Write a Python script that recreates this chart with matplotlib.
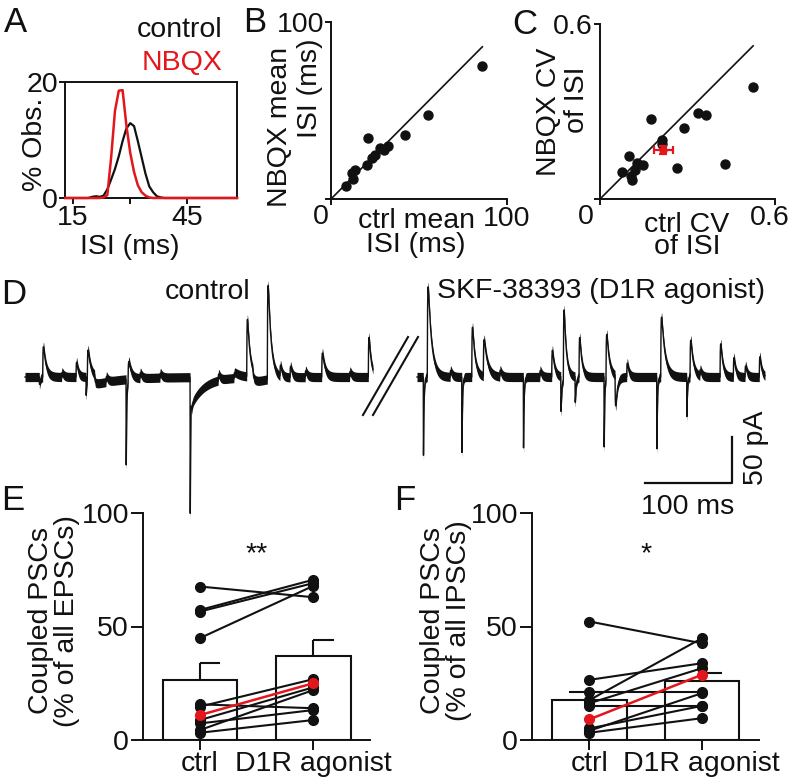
import numpy as np
import matplotlib.pyplot as plt

plt.switch_backend("Agg")
plt.rcParams["font.family"] = ["Liberation Sans", "DejaVu Sans"]

W, H = 793, 783
FS = 20.5
RED = "#e3171b"
INK = "#111111"

# ---- A: ISI distribution (% of observations, 1 ms bins) ----
isi_ms = list(range(13, 59))
isi_control = [0, 0, 0, 0, 0, 0, 0, 0.2, 0.3, 0.2, 0.4, 1.5, 3.2, 5.0, 7.2, 9.8,
               12.0, 12.9, 12.4, 9.8, 7.0, 4.2, 2.0, 1.0, 0.3, 0.1] + [0] * 20
isi_nbqx = [0] * 10 + [0.1, 0.5, 7.0, 15.0, 18.5, 18.6, 12.5, 7.8, 4.5, 2.2,
                       1.0, 0.4, 0.1] + [0] * 23

# ---- B: mean ISI per cell (ms) ----
ctrl_mean_isi = [85.6, 55.3, 42.0, 21.2, 32.2, 30.1, 27.8, 25.0, 23.1, 20.3, 13.6, 11.7, 12.7, 8.5]
nbqx_mean_isi = [75.1, 47.5, 36.2, 34.3, 30.1, 27.7, 28.6, 24.9, 23.0, 19.2, 16.4, 14.5, 11.1, 7.3]

# ---- C: CV of ISI per cell ----
ctrl_cv = [0.526, 0.429, 0.335, 0.362, 0.288, 0.265, 0.175, 0.211, 0.211, 0.101,
           0.126, 0.149, 0.074, 0.120, 0.105, 0.111]
nbqx_cv = [0.383, 0.119, 0.294, 0.288, 0.244, 0.107, 0.274, 0.202, 0.189, 0.149,
           0.122, 0.117, 0.094, 0.099, 0.080, 0.065]
cv_mean = (0.217, 0.168)
cv_sem = (0.033, 0.014)

# ---- D: example traces, events as (time ms, peak pA, decay ms) ----
ctrl_ev_t = [16.4, 20.3, 42, 58.6, 70.1, 71.6, 80, 93, 116.1, 118.4, 132, 155,
             189.7, 191, 222, 240, 254.8, 262, 278.5, 293, 304.6, 322, 341, 373, 394.6]
ctrl_ev_amp = [-8, 33, 5, 16, -20, 30, -8, 6, -93, 20, 6, 5,
               -148, -27, 7, 6, 62, -7, 102, 12, 12, 7, 26, 6, 43]
ctrl_ev_tau = [1, 3, 2, 2, 0.6, 3, 30, 2, 0.6, 3, 2, 2,
               0.6, 15, 2, 8, 3, 15, 3.5, 2, 2, 2, 3, 2, 2.5]

agon_ev_t = [7.2, 11.8, 38, 51.4, 62.9, 76.2, 95, 122.2, 141, 154.8, 165.2, 168.2,
             181.6, 186.2, 214.9, 217.2, 227.6, 241, 275.5, 280.1, 310, 313.8,
             325, 348.3, 363.6, 377, 393.4]
agon_ev_amp = [-85, 98, 7, -82, 54, 40, 7, -77, 7, 29, -38, 74,
               -28, 43, -76, 47, -33, 15, -78, 65, -43, 40,
               7, 36, 21, 12, 22]
agon_ev_tau = [0.6, 4, 2, 0.6, 3, 4, 2, 0.6, 2, 2.5, 1, 2.5,
               1, 2.5, 0.6, 3, 2, 2, 0.6, 4, 0.6, 3,
               2, 2.5, 2, 2, 2]

# ---- E / F: coupled PSCs (% of all EPSCs / IPSCs) ----
groups = ["ctrl", "D1R agonist"]
epsc_ctrl = [67.6, 57.3, 56.6, 44.9, 15.7, 14.7, 8.8, 7.3, 4.4, 3.2]
epsc_agon = [62.9, 70.6, 69.1, 67.9, 14.0, 26.8, 23.2, 13.2, 22.0, 8.8]
epsc_red = (11.0, 25.0)
epsc_mean = [26.5, 36.8]
epsc_sem = [7.3, 7.3]

ipsc_ctrl = [52.2, 26.5, 21.3, 17.6, 16.2, 15.0, 5.1, 4.1, 3.2]
ipsc_agon = [42.6, 33.8, 21.3, 44.8, 31.6, 15.0, 15.0, 20.6, 9.6]
ipsc_red = (9.1, 28.7)
ipsc_mean = [17.6, 26.2]
ipsc_sem = [3.7, 3.5]

fig = plt.figure(figsize=(W / 100, H / 100), dpi=100)


def box(l, t, r, b):
    return fig.add_axes([l / W, 1 - b / H, (r - l) / W, (b - t) / H])


def txt(x, y, s, **kw):
    kw.setdefault("ha", "center")
    kw.setdefault("va", "center")
    kw.setdefault("fontsize", FS)
    kw.setdefault("color", INK)
    return fig.text(x / W, 1 - y / H, s, **kw)


def lean(ax, ticklen=4):
    for side in ("top", "right"):
        ax.spines[side].set_visible(False)
    for side in ("left", "bottom"):
        ax.spines[side].set_linewidth(1.4)
        ax.spines[side].set_color(INK)
    ax.tick_params(length=ticklen, width=1.4, labelsize=FS, colors=INK, pad=1)
    ax.patch.set_alpha(0)


# A
axA = box(65, 82, 237, 198)
axA.plot(isi_ms, isi_control, color=INK, lw=1.6, zorder=3, clip_on=False)
axA.plot(isi_ms, isi_nbqx, color=RED, lw=1.8, zorder=4, clip_on=False)
axA.set_xlim(12.9, 58)
axA.set_ylim(0, 20)
axA.set_xticks([15, 30, 45], ["15", "", "45"])
axA.set_yticks([0, 20])
for s in axA.spines.values():
    s.set_linewidth(1.4)
    s.set_color(INK)
axA.tick_params(length=4, width=1.4, labelsize=FS, colors=INK, pad=1)
txt(35, 144, "% Obs.", rotation=90)
txt(130, 247, "ISI (ms)")
txt(222, 30, "control", ha="right")
txt(222, 63, "NBQX", ha="right", color=RED)

# B
axB = box(331, 22, 507, 199)
lean(axB)
axB.scatter(ctrl_mean_isi, nbqx_mean_isi, s=42, color=INK, zorder=3, clip_on=False)
axB.plot([0, 86], [0, 86], color=INK, lw=1.2)
axB.set_xlim(0, 100)
axB.set_ylim(0, 100)
axB.set_xticks([0, 100], ["", "100"])
axB.set_yticks([0, 100], ["", "100"])
txt(321, 217, "0")
txt(280, 127, "NBQX mean", rotation=90)
txt(310, 88, "ISI (ms)", rotation=90)
txt(416, 233, "ctrl mean\nISI (ms)", linespacing=0.9)

# C
axC = box(600, 24, 775, 199)
lean(axC)
axC.scatter(ctrl_cv, nbqx_cv, s=42, color=INK, zorder=3, clip_on=False)
axC.plot([0, 0.525], [0, 0.525], color=INK, lw=1.2)
axC.errorbar([cv_mean[0]], [cv_mean[1]], xerr=[cv_sem[0]], yerr=[cv_sem[1]],
             fmt="o", ms=5, color=RED, ecolor=RED, elinewidth=1.6, capsize=3,
             capthick=1.6, zorder=4)
axC.set_xlim(0, 0.6)
axC.set_ylim(0, 0.6)
axC.set_xticks([0, 0.6], ["", ""])
axC.set_yticks([0, 0.6], ["", "0.6"])
txt(586, 217, "0")
txt(770, 218, "0.6")
txt(549, 112, "NBQX CV", rotation=90)
txt(577, 100, "of ISI", rotation=90)
txt(687, 236, "ctrl CV\nof ISI", linespacing=0.85)

# D
PX_PER_MS = 0.87
PX_PER_PA = 0.92
BASE_Y = 377
axD = box(0, 270, W, 520)
axD.set_xlim(0, W / PX_PER_MS)
axD.set_ylim(-(520 - BASE_Y) / PX_PER_PA, (BASE_Y - 270) / PX_PER_PA)
axD.axis("off")


def build_trace(ev_t, ev_amp, ev_tau, dur=400.0, dt=0.05):
    t = np.arange(0, dur, dt)
    y = np.zeros_like(t)
    for t0, amp, tau in zip(ev_t, ev_amp, ev_tau):
        s = np.clip(t - t0, 0, None)
        rise = 0.15 if tau < 2 else 0.4
        k = (1 - np.exp(-s / rise)) * np.exp(-s / tau)
        y += amp * k / k.max()
    return t, y


NOISE = 5.0
for offset_px, evs in [(25, (ctrl_ev_t, ctrl_ev_amp, ctrl_ev_tau)),
                       (417, (agon_ev_t, agon_ev_amp, agon_ev_tau))]:
    t, y = build_trace(*evs)
    x = t + offset_px / PX_PER_MS
    axD.fill_between(x, y - NOISE, y + NOISE, color=INK, lw=0)
    axD.plot(x, y, color=INK, lw=1.0)

# break marks
for x0 in (363, 373):
    axD.plot([x0 / PX_PER_MS, (x0 + 45) / PX_PER_MS],
             [-(415 - BASE_Y) / PX_PER_PA, (BASE_Y - 337) / PX_PER_PA],
             color=INK, lw=1.5)

# scale bar: 100 ms x 50 pA
sb_x = 732 / PX_PER_MS
sb_y = -(483 - BASE_Y) / PX_PER_PA
axD.plot([sb_x - 100, sb_x, sb_x], [sb_y, sb_y, sb_y + 50], color=INK, lw=1.6)
txt(756, 448, "50 pA", rotation=90)
txt(688, 507, "100 ms")
txt(208, 292, "control")
txt(601, 291, "SKF-38393 (D1R agonist)")


def paired(ax, ctrl, agon, red, means, sems, caps, stars):
    lean(ax, ticklen=7)
    x = [0, 1]
    ax.bar(x, means, width=0.66, color="white", edgecolor=INK, lw=1.5, zorder=1)
    for i, (m, s) in enumerate(zip(means, sems)):
        ax.vlines(i, m, m + s, color=INK, lw=1.5, zorder=1)
        ax.hlines(m + s, i - caps[i], i + 0.18, color=INK, lw=1.5, zorder=1)
    for c, a in zip(ctrl, agon):
        ax.plot(x, [c, a], "-o", color=INK, ms=7, lw=1.5, zorder=3, clip_on=False)
    ax.plot(x, red, "-o", color=RED, ms=7, lw=1.8, zorder=4)
    ax.set_ylim(0, 100)
    ax.set_xticks(x, groups)
    ax.set_yticks([0, 50, 100])
    ax.tick_params(axis="y", length=9)
    ax.text(0.5, 82, stars, ha="center", va="center", fontsize=FS, color=INK)


# E
axE = box(143, 513, 370, 740)
axE.set_xlim(-0.503, 1.5)
paired(axE, epsc_ctrl, epsc_agon, epsc_red, epsc_mean, epsc_sem, (0, 0), "**")
txt(54, 621, "Coupled PSCs\n(% of all EPSCs)", rotation=90, linespacing=1.05)

# F
axF = box(532, 513, 759, 740)
axF.set_xlim(-0.512, 1.51)
paired(axF, ipsc_ctrl, ipsc_agon, ipsc_red, ipsc_mean, ipsc_sem, (0.18, 0), "*")
txt(446, 621, "Coupled PSCs\n(% of all IPSCs)", rotation=90, linespacing=1.05)

# panel letters
for lab, x, y in [("A", 15, 22), ("B", 255, 22), ("C", 525, 24),
                  ("D", 14, 294), ("E", 13, 501), ("F", 405, 501)]:
    txt(x, y, lab, fontsize=25)

fig.savefig("out.png", dpi=100)
